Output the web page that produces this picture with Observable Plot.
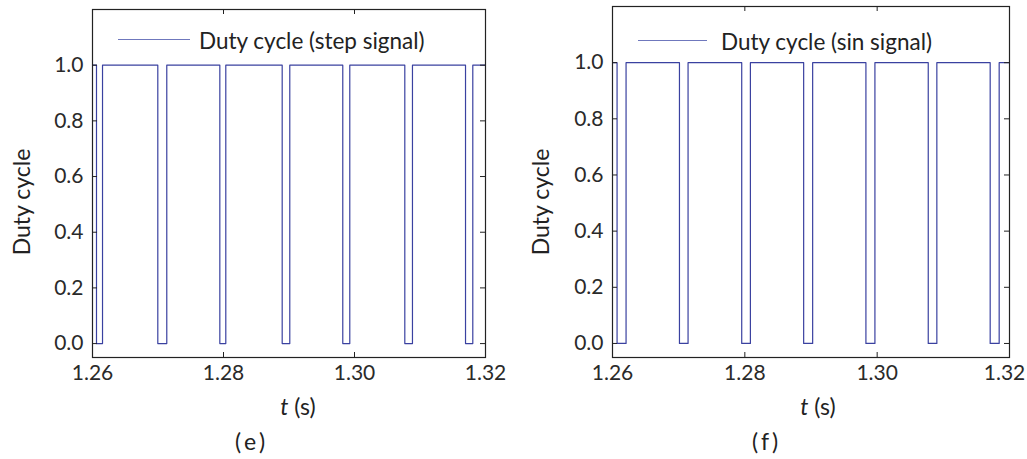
<!DOCTYPE html>
<html>
<head>
<meta charset="utf-8">
<script src="https://cdn.jsdelivr.net/npm/d3@7"></script>
<script src="https://cdn.jsdelivr.net/npm/@observablehq/plot@0.6"></script>
<style>
  html, body { margin: 0; padding: 0; background: #fff; }
  #wrap { position: relative; width: 1027px; height: 459px; overflow: hidden; font-family: Lato, "Noto Sans", sans-serif; color: #222; }
  .panel { position: absolute; top: 0; }
  .lbl { position: absolute; font-size: 23px; white-space: nowrap; transform: translate(-50%, -50%); }
  .ylbl { position: absolute; font-size: 23px; white-space: nowrap; transform: translate(-50%, -50%) rotate(-90deg); }
  .legtext { position: absolute; font-size: 22.5px; white-space: nowrap; transform: translateY(-50%); }
  .legline { position: absolute; height: 0; border-top: 1.2px solid #6f78bd; }
</style>
</head>
<body>
<div id="wrap"></div>
<script>
// ---- data ----
const xTicks = [1.26, 1.28, 1.30, 1.32];
const yTicks = [0, 0.2, 0.4, 0.6, 0.8, 1.0];
const tStart = 1.26;
const tEnd = 1.32;
// falling / rising edges of the duty cycle (s)
const stepFall = [1.26061, 1.26997, 1.27944, 1.28896, 1.29821, 1.30768, 1.31695];
const stepRise = [1.26153, 1.27134, 1.28035, 1.29012, 1.29928, 1.30885, 1.31806];
const sinFall  = [1.26069, 1.27012, 1.27953, 1.28889, 1.29830, 1.30772, 1.31708];
const sinRise  = [1.26205, 1.27142, 1.28084, 1.29025, 1.29966, 1.30902, 1.31844];
const highValue = 1.0;
const lowValue = 0.0;
const legendStep = "Duty cycle (step signal)";
const legendSin = "Duty cycle (sin signal)";

function buildSeries(falls, rises) {
  const pts = [{t: tStart, v: highValue}];
  falls.forEach((f, i) => {
    pts.push({t: f, v: lowValue});
    pts.push({t: rises[i], v: highValue});
  });
  pts.push({t: tEnd, v: highValue});
  return pts;
}

const lineColor = "#3a41a0";
const axisColor = "#222";

function panel({data, width, height, mt, mb, ml, mr, lastShift}) {
  const fw = width - ml - mr;
  const fh = height - mt - mb;
  const tick = 5;
  const fmtX = d3.format(".2f");
  return Plot.plot({
    width, height,
    marginTop: mt, marginBottom: mb, marginLeft: ml, marginRight: mr,
    style: {fontFamily: "Lato, 'Noto Sans', sans-serif", fontSize: "21px", color: "#2a2a2a", background: "transparent"},
    x: {domain: [1.26, 1.32]},
    y: {domain: [-0.05, 1.2]},
    marks: [
      Plot.line(data, {x: "t", y: "v", curve: "step-after", stroke: lineColor, strokeWidth: 1.2}),
      Plot.frame({stroke: axisColor, strokeWidth: 1.2}),
      Plot.tickX(xTicks, {x: d => d, insetTop: fh - tick, stroke: axisColor}),
      Plot.tickX(xTicks, {x: d => d, insetBottom: fh - tick, stroke: axisColor}),
      Plot.tickY(yTicks, {y: d => d, insetRight: fw - tick, stroke: axisColor}),
      Plot.tickY(yTicks, {y: d => d, insetLeft: fw - tick, stroke: axisColor}),
      Plot.axisX({ticks: xTicks.slice(0, -1), tickFormat: fmtX, tickSize: 0, tickPadding: 8, label: null}),
      Plot.axisX({ticks: xTicks.slice(-1), tickFormat: fmtX, tickSize: 0, tickPadding: 8, label: null, dx: lastShift}),
      Plot.axisY({ticks: yTicks, tickFormat: d3.format(".1f"), tickSize: 0, tickPadding: 9, label: null})
    ]
  });
}

const wrap = document.getElementById("wrap");

function addPanel(left, opts) {
  const el = panel(opts);
  el.classList.add("panel");
  el.style.left = left + "px";
  wrap.appendChild(el);
}

addPanel(0, {data: buildSeries(stepFall, stepRise), width: 512, height: 459, mt: 9, mb: 102, ml: 92, mr: 27, lastShift: 0});
addPanel(512, {data: buildSeries(sinFall, sinRise), width: 515, height: 459, mt: 6, mb: 102, ml: 100, mr: 18, lastShift: -5});

function addHTML(cls, x, y, html, extra) {
  const d = document.createElement("div");
  d.className = cls;
  d.style.left = x + "px";
  d.style.top = y + "px";
  d.innerHTML = html;
  if (extra) Object.assign(d.style, extra);
  wrap.appendChild(d);
}

// legends
addHTML("legline", 118, 39, "", {width: "72px"});
addHTML("legtext", 199, 40, legendStep);
addHTML("legline", 638, 40, "", {width: "69px"});
addHTML("legtext", 721, 41, legendSin);

// axis labels
addHTML("ylbl", 21, 202, "Duty cycle");
addHTML("ylbl", 540, 202, "Duty cycle");
addHTML("lbl", 298, 406, "<i>t</i> (s)");
addHTML("lbl", 818, 406, "<i>t</i> (s)");
addHTML("lbl", 250, 441, "(&thinsp;e&thinsp;)");
addHTML("lbl", 765, 441, "(&thinsp;f&thinsp;)");
</script>
</body>
</html>
